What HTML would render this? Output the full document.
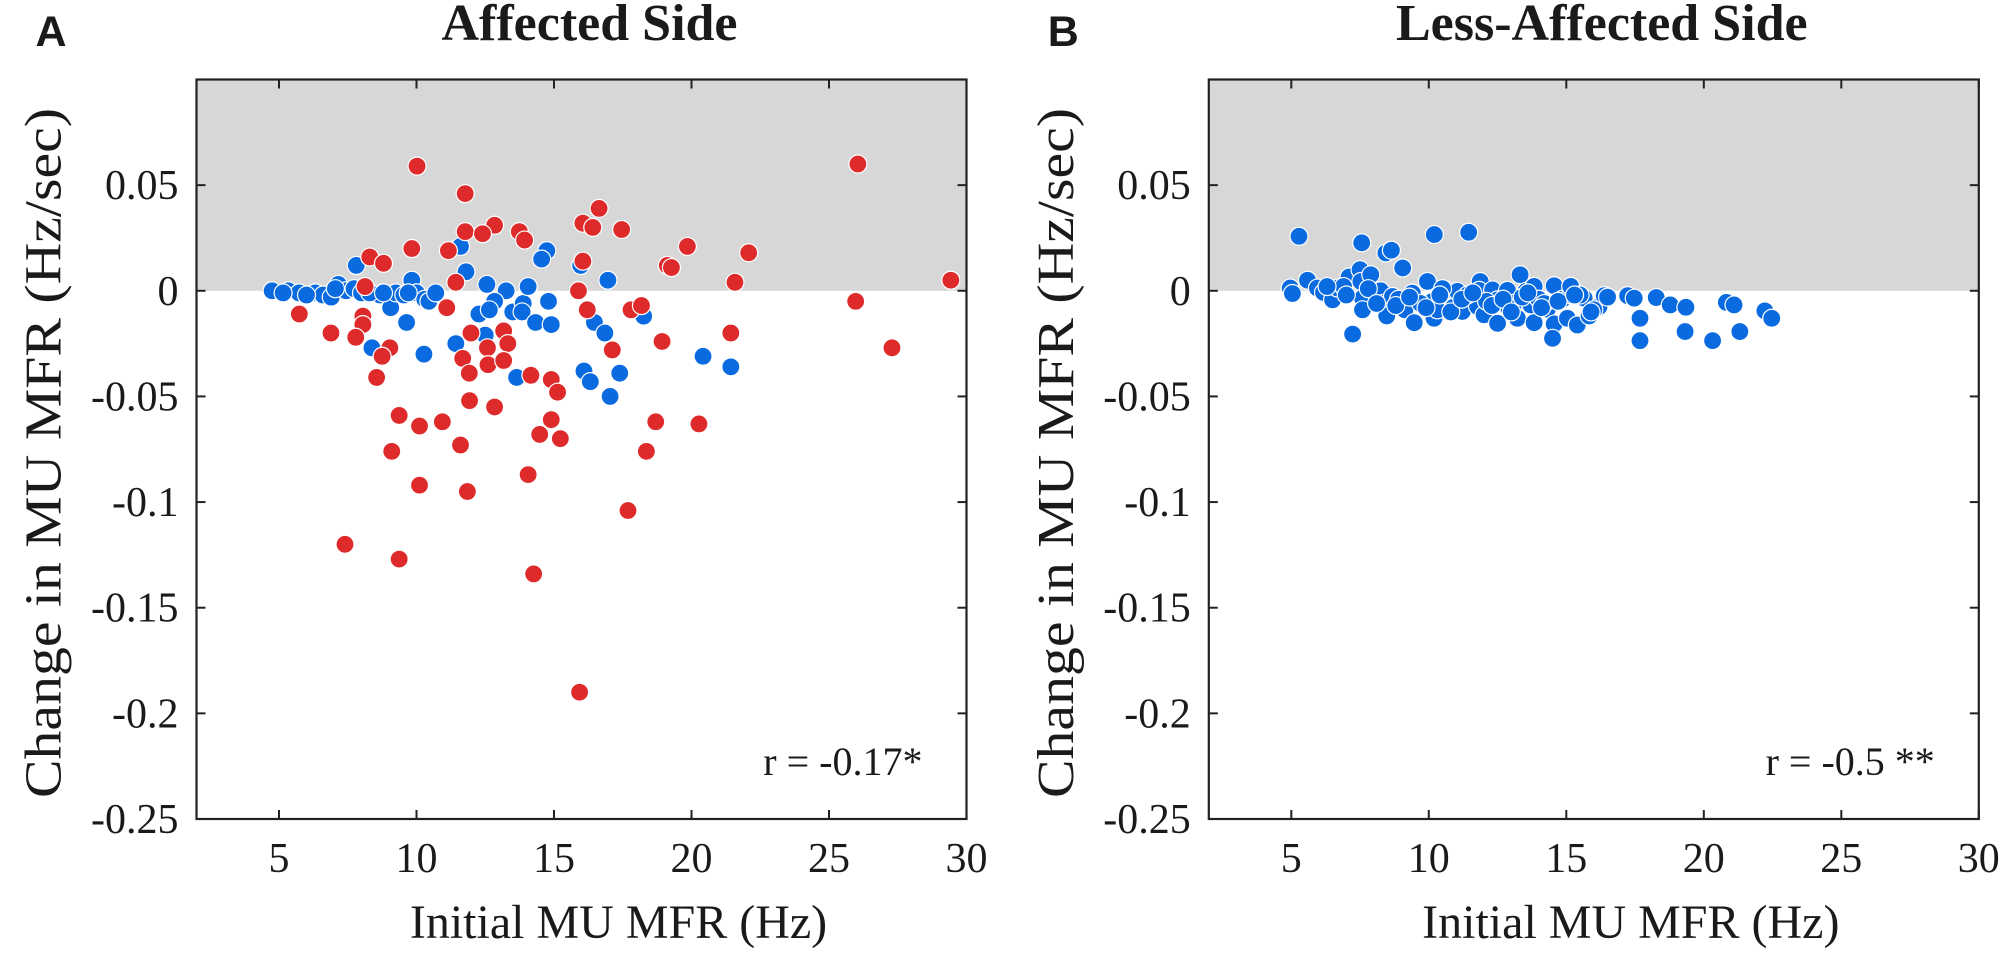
<!DOCTYPE html>
<html><head><meta charset="utf-8"><style>
html,body{margin:0;padding:0;background:#fff;}
svg{display:block;}
text{font-family:"Liberation Serif",serif;fill:#1a1a1a;}
</style></head>
<body>
<svg id="fig" width="2013" height="959" viewBox="0 0 2013 959" xmlns="http://www.w3.org/2000/svg"></svg>
<script>
const xTicks=[5,10,15,20,25,30];
const yTicks=[0.05,0,-0.05,-0.1,-0.15,-0.2,-0.25];
const yTickLabels=["0.05","0","-0.05","-0.1","-0.15","-0.2","-0.25"];
const xDomain=[2,30];
const yDomain=[-0.25,0.1];
const panelTitles=["Affected Side","Less-Affected Side"];
const panelLetters=["A","B"];
const rLabels=["r = -0.17*","r = -0.5 **"];
const aRedX=[10.02,26.05,11.77,16.64,16.05,16.41,12.84,11.77,12.4,13.74,13.93,17.46,9.83,11.16,19.85,22.08,8.3,8.8,16.05,19.12,19.27,29.43,21.58,11.43,8.13,15.89,25.97,11.1,16.21,17.8,18.18,5.74,8.05,8.05,6.89,7.79,11.98,13.17,13.32,21.43,18.93,9.03,8.75,12.58,17.12,11.68,12.6,13.17,27.29,8.55,11.92,14.16,14.9,15.13,11.93,12.84,9.37,10.11,10.94,14.9,18.7,20.27,14.48,15.23,11.6,9.1,18.36,14.06,10.11,11.85,17.69,7.4,9.37,14.26,15.93];
const aRedY=[0.059,0.060,0.046,0.039,0.032,0.030,0.031,0.028,0.027,0.028,0.024,0.029,0.020,0.019,0.021,0.018,0.016,0.013,0.014,0.012,0.011,0.005,0.004,0.004,0.002,0.000,-0.005,-0.008,-0.009,-0.009,-0.007,-0.011,-0.012,-0.016,-0.020,-0.022,-0.020,-0.019,-0.025,-0.020,-0.024,-0.027,-0.031,-0.027,-0.028,-0.032,-0.035,-0.033,-0.027,-0.041,-0.039,-0.040,-0.042,-0.048,-0.052,-0.055,-0.059,-0.064,-0.062,-0.061,-0.062,-0.063,-0.068,-0.070,-0.073,-0.076,-0.076,-0.087,-0.092,-0.095,-0.104,-0.120,-0.127,-0.134,-0.190];
const aBlueX=[4.75,5.34,5.73,6.32,6.6,6.9,7.16,7.44,7.73,8.0,7.81,8.68,9.06,9.25,9.54,9.83,10.0,10.3,10.45,9.64,8.38,10.27,11.6,11.8,12.56,13.26,12.84,12.27,12.65,13.5,13.88,14.06,13.84,14.33,14.9,14.8,12.5,11.43,13.64,14.74,14.55,15.97,16.96,16.47,16.85,18.26,16.09,16.32,17.39,17.04,20.42,21.43,5.15,6.0,8.3,8.8,9.7,10.7,7.05];
const aBlueY=[0,0,-0.001,-0.001,-0.002,-0.003,0.003,0,0.001,-0.001,0.012,-0.002,-0.008,-0.001,-0.002,0.005,-0.001,-0.004,-0.005,-0.015,-0.027,-0.030,0.021,0.009,0.003,0,-0.005,-0.011,-0.009,-0.010,-0.006,0.002,-0.010,-0.015,-0.016,-0.005,-0.021,-0.025,-0.041,0.019,0.015,0.012,0.005,-0.015,-0.020,-0.012,-0.038,-0.043,-0.039,-0.050,-0.031,-0.036,-0.001,-0.002,-0.001,-0.001,-0.001,-0.001,0.001];
const bBlueX=[5.28,7.56,8.44,8.64,10.2,11.45,9.05,13.32,4.96,5.04,5.59,5.95,6.17,6.5,6.68,7.1,7.5,7.53,7.89,7.59,7.59,7.23,8.25,8.38,8.47,8.68,9.13,9.4,9.47,9.95,10.13,10.19,10.31,10.62,10.9,11.04,11.22,11.87,11.83,11.77,12.01,12.32,12.5,12.5,12.86,13.1,13.22,13.53,13.83,13.71,13.83,14.0,14.31,14.56,14.56,14.5,14.86,15.16,15.04,15.16,15.4,15.65,15.83,16.19,16.38,17.23,17.47,17.68,17.68,18.27,18.78,19.35,19.32,20.32,20.82,21.1,21.31,22.22,22.47,6.9,8.9,9.7,10.5,11.4,12.1,12.9,13.4,14.2,15.5,16.0,6.3,7.0,7.8,8.1,8.8,9.3,9.9,10.4,10.8,11.2,11.6,12.3,12.7,13.0,13.6,14.1,14.7,15.3,15.9,16.5];
const bBlueY=[0.0258,0.0227,0.0179,0.0192,0.0266,0.0277,0.0108,0.0076,0.0013,-0.0013,0.005,0.0013,-0.0008,-0.0043,0.0013,0.0065,0.0100,0.0044,0.0076,-0.0035,-0.009,-0.0205,0.0,-0.0059,-0.0119,-0.0027,-0.009,-0.0011,-0.0151,0.0044,-0.0051,-0.0130,-0.009,0.0004,-0.0078,-0.0003,-0.0098,0.0044,0.0002,-0.0074,-0.0114,0.0004,-0.0043,-0.0154,0.0002,-0.0059,-0.0130,-0.0003,0.0021,-0.0067,-0.0151,-0.0040,-0.0087,0.0024,-0.0157,-0.0225,-0.004,-0.0019,-0.013,0.0021,-0.0162,-0.0035,-0.0119,-0.0075,-0.0023,-0.0023,-0.0035,-0.013,-0.0236,-0.0032,-0.0067,-0.0078,-0.0193,-0.0236,-0.0055,-0.0067,-0.0193,-0.0095,-0.013,0.002,-0.004,-0.006,0.001,-0.002,-0.005,-0.008,-0.003,-0.006,-0.002,-0.009,0.002,-0.002,0.001,-0.006,-0.007,-0.003,-0.008,-0.002,-0.010,-0.004,-0.001,-0.007,-0.004,-0.010,-0.001,-0.008,-0.005,-0.002,-0.010,-0.003];

const NS="http://www.w3.org/2000/svg";
const svg=document.getElementById('fig');
function mk(tag,attrs,parent,txt){const e=document.createElementNS(NS,tag);for(const k in attrs)e.setAttribute(k,attrs[k]);if(txt!==undefined)e.textContent=txt;(parent||svg).appendChild(e);return e;}

const panels=[{left:196.5,series:[{x:aBlueX,y:aBlueY,c:"#0a6ae0",n:"blue"},{x:aRedX,y:aRedY,c:"#de2a2a",n:"red"}]},
              {left:1208.8,series:[{x:bBlueX,y:bBlueY,c:"#0a6ae0",n:"blue"}]}];
const W=770, TOP=79.5, BOT=819;
panels.forEach((p,i)=>{
  const L=p.left,R=L+W;
  const sx=v=>L+(v-xDomain[0])/(xDomain[1]-xDomain[0])*W;
  const sy=v=>BOT-(v-yDomain[0])/(yDomain[1]-yDomain[0])*(BOT-TOP);
  const g=mk('g',{});  
  const sh=mk('rect',{x:L,y:TOP,width:W,height:sy(0)-TOP,fill:"#d7d7d7"},g);
   
  p.series.forEach(s=>{
    const sg=mk('g',{},g);  
    s.x.forEach((xv,k)=>{
      const c=mk('circle',{cx:sx(xv),cy:sy(s.y[k]),r:9,fill:s.c,stroke:"#fff","stroke-width":1.2},sg);
       
    });
  });
  const fr=mk('rect',{x:L,y:TOP,width:W,height:BOT-TOP,fill:"none",stroke:"#222","stroke-width":2.2},g);
   
  xTicks.forEach(t=>{
    const x=sx(t);
    mk('line',{x1:x,x2:x,y1:BOT,y2:BOT-9,stroke:"#222","stroke-width":2},g);
    mk('line',{x1:x,x2:x,y1:TOP,y2:TOP+9,stroke:"#222","stroke-width":2},g);
    const tl=mk('text',{x:x,y:872,"font-size":42,"text-anchor":"middle"},g,String(t));
     
  });
  yTicks.forEach((t,k)=>{
    const y=sy(t);
    mk('line',{x1:L,x2:L+9,y1:y,y2:y,stroke:"#222","stroke-width":2},g);
    mk('line',{x1:R,x2:R-9,y1:y,y2:y,stroke:"#222","stroke-width":2},g);
    const tl=mk('text',{x:L-18,y:y+14,"font-size":42,"text-anchor":"end"},g,yTickLabels[k]);
     
  });
  const xl=mk('text',{x:L+W/2+37,y:938,"font-size":48,"text-anchor":"middle"},g,"Initial MU MFR (Hz)");
   
  const yx=L-136, yc=453;
  const yl=mk('text',{x:yx,y:yc,"font-size":52,"text-anchor":"middle",transform:`rotate(-90 ${yx} ${yc})`,textLength:690,lengthAdjust:"spacingAndGlyphs"},g,"Change in MU MFR (Hz/sec)");
   
  const tt=mk('text',{x:L+W/2+8,y:40,"font-size":52,"font-weight":"bold","text-anchor":"middle"},g,panelTitles[i]);
   
  const pl=mk('text',{x:L-161,y:46,"font-size":43,"font-weight":"bold","style":"font-family:'Liberation Sans',sans-serif"},g,panelLetters[i]);
   
  const rl=mk('text',{x:R-44,y:775,"font-size":40,"text-anchor":"end"},g,rLabels[i]);
   
});
</script>
</body></html>
